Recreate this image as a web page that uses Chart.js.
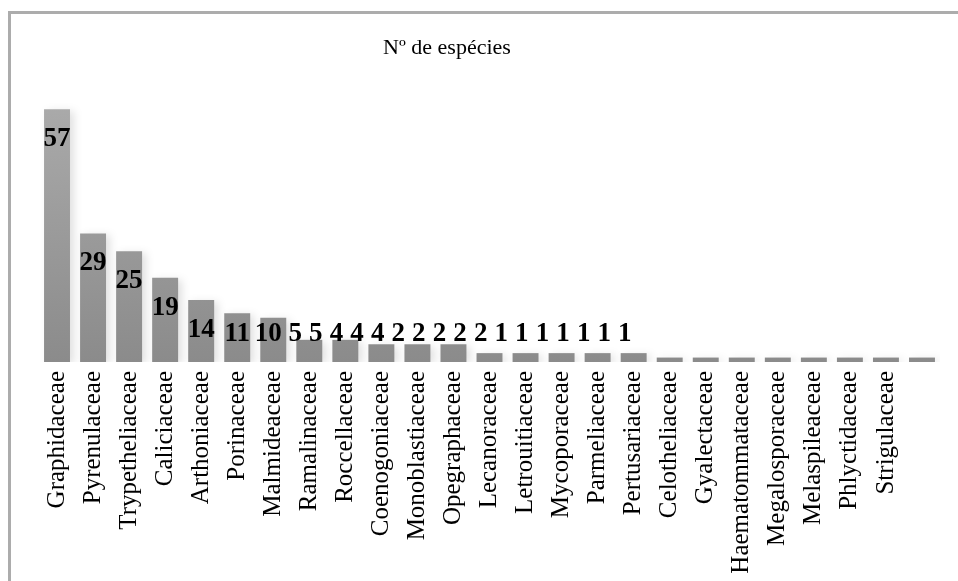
<!DOCTYPE html>
<html>
<head>
<meta charset="utf-8">
<script src="https://cdn.jsdelivr.net/npm/chart.js@4"></script>
<style>
  html, body { margin: 0; padding: 0; background: #fff; overflow: hidden; }
  #wrap { position: relative; width: 958px; height: 581px; overflow: hidden; }
  #frame { position: absolute; left: 8px; top: 11px; width: 1000px; height: 640px;
           border: 3px solid #acacac; box-sizing: border-box; }
  canvas { position: absolute; left: 0; top: 0; }
</style>
</head>
<body>
<div id="wrap">
  <div id="frame"></div>
  <canvas id="c" width="958" height="581"></canvas>
</div>
<script>
// Lichen families and number of species recorded in each
const families = [
  'Graphidaceae', 'Pyrenulaceae', 'Trypetheliaceae', 'Caliciaceae', 'Arthoniaceae',
  'Porinaceae', 'Malmideaceae', 'Ramalinaceae', 'Roccellaceae', 'Coenogoniaceae',
  'Monoblastiaceae', 'Opegraphaceae', 'Lecanoraceae', 'Letrouitiaceae', 'Mycoporaceae',
  'Parmeliaceae', 'Pertusariaceae', 'Celotheliaceae', 'Gyalectaceae', 'Haematommataceae',
  'Megalosporaceae', 'Melaspileaceae', 'Phlyctidaceae', 'Strigulaceae', ''
];
const speciesCount = [
  57, 29, 25, 19, 14,
  11, 10, 5, 5, 4,
  4, 4, 2, 2, 2,
  2, 2, 1, 1, 1,
  1, 1, 1, 1, 1
];
const chartTitle = 'Nº de espécies';
const yMin = 0;
const yMax = 60;

const SERIF = '"Liberation Serif", "Times New Roman", serif';

// Title drawn above the bars, a little left of the plot centre
const titlePlugin = {
  id: 'titleText',
  afterDraw(chart) {
    const { ctx } = chart;
    ctx.save();
    ctx.font = '22px ' + SERIF;
    ctx.fillStyle = '#000';
    ctx.textAlign = 'center';
    ctx.textBaseline = 'middle';
    ctx.fillText(chartTitle, 447, 48);
    ctx.restore();
  }
};

// Faint floor shadow behind the bars
const shadowPlugin = {
  id: 'barShadow',
  beforeDatasetsDraw(chart) {
    const ctx = chart.ctx;
    ctx.save();
    ctx.shadowColor = 'rgba(0,0,0,0.12)';
    ctx.shadowBlur = 8;
    ctx.shadowOffsetX = 4;
    ctx.shadowOffsetY = 2;
  },
  afterDatasetsDraw(chart) {
    chart.ctx.restore();
  }
};

// Value labels: centred in the tall bars, packed side by side once the bars get short
const valueLabels = {
  id: 'valueLabels',
  afterDatasetsDraw(chart) {
    const { ctx } = chart;
    const meta = chart.getDatasetMeta(0);
    const data = chart.data.datasets[0].data;
    ctx.save();
    ctx.font = 'bold 27px ' + SERIF;
    ctx.fillStyle = '#000';
    ctx.textAlign = 'center';
    ctx.textBaseline = 'middle';
    const floorY = chart.scales.y.getPixelForValue(6.2);
    let x = 0;
    meta.data.forEach((bar, i) => {
      if (!chart.data.labels[i]) return;
      if (data[i] >= 10) {
        x = bar.x - (data[i] === 10 ? 5 : 0);
      } else {
        x += (i === 7 ? 27 : 20.6);
      }
      const y = Math.min(bar.y + 30, floorY);
      ctx.fillText(String(data[i]), x, y);
    });
    ctx.restore();
  }
};

const ctx = document.getElementById('c').getContext('2d');
new Chart(ctx, {
  type: 'bar',
  data: {
    labels: families,
    datasets: [{
      data: speciesCount,
      backgroundColor(c) {
        const area = c.chart.chartArea;
        if (!area) return '#9a9a9a';
        const g = c.chart.ctx.createLinearGradient(0, area.top, 0, area.bottom);
        g.addColorStop(0, '#ababab');
        g.addColorStop(1, '#8b8b8b');
        return g;
      },
      borderWidth: 0,
      barPercentage: 0.72,
      categoryPercentage: 1.0
    }]
  },
  options: {
    responsive: false,
    animation: false,
    devicePixelRatio: 1,
    layout: { padding: { left: 39, right: 18, top: 96, bottom: 0 } },
    plugins: {
      legend: { display: false },
      title: { display: false },
      tooltip: { enabled: false }
    },
    scales: {
      x: {
        grid: { display: false, drawTicks: false },
        border: { display: false },
        ticks: {
          autoSkip: false,
          minRotation: 90,
          maxRotation: 90,
          padding: 9,
          color: '#000',
          font: { family: SERIF, size: 25 }
        },
        afterFit(scale) {
          scale.height = 219;
          scale.paddingLeft = 0;
          scale.paddingRight = 0;
        }
      },
      y: {
        display: false,
        min: yMin,
        max: yMax
      }
    }
  },
  plugins: [shadowPlugin, valueLabels, titlePlugin]
});
</script>
</body>
</html>
